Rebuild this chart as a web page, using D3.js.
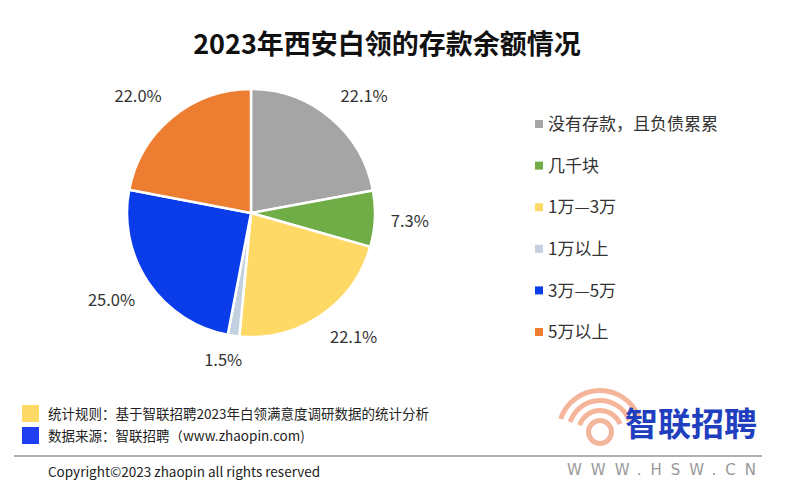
<!DOCTYPE html>
<html>
<head>
<meta charset="utf-8">
<script src="https://cdn.jsdelivr.net/npm/d3@7"></script>
<style>
	body { margin: 0; background: #fff; }
	svg text { font-family: "Noto Sans CJK SC", "Noto Sans", sans-serif; }
</style>
</head>
<body>
<div id="chart"></div>
<script>
var categories = ['没有存款，且负债累累', '几千块', '1万—3万', '1万以上', '3万—5万', '5万以上'];
var values = [22.1, 7.3, 22.1, 1.5, 25.0, 22.0];
var colors = ['#A5A5A5', '#70AD47', '#FFD966', '#C3D0E0', '#0B3CEA', '#ED7D31'];
var noteLines = ['统计规则：基于智联招聘2023年白领满意度调研数据的统计分析', '数据来源：智联招聘（www.zhaopin.com)'];
var noteColors = ['#FFD966', '#1E3EF0'];

var options = {
	width: 800,
	height: 496,
	cx: 251,
	cy: 213,
	radius: 124,
	labelRadius: 140,
	legendX: 535,
	legendY: 124,
	legendStep: 41.6
};

var svg = d3.select('#chart').append('svg')
	.attr('width', options.width)
	.attr('height', options.height);

// Title
svg.append('text')
	.attr('x', 387)
	.attr('y', 54)
	.attr('text-anchor', 'middle')
	.style('font-size', '27px')
	.style('font-weight', 'bold')
	.style('fill', '#111')
	.text('2023年西安白领的存款余额情况');

var pie = d3.pie().sort(null).value(function(d) { return d; });
var arcs = pie(values);
var arc = d3.arc().innerRadius(0).outerRadius(options.radius);

var g = svg.append('g')
	.attr('transform', 'translate(' + options.cx + ',' + options.cy + ')');

g.selectAll('path.slice')
	.data(arcs)
	.enter().append('path')
	.classed('slice', true)
	.attr('d', arc)
	.style('fill', function(d, i) { return colors[i]; })
	.style('stroke', '#fff')
	.style('stroke-width', 2.5);

// Data labels: the nearest corner of the label box sits on the mid-angle ray
var clamp = function(v) { return Math.max(-1, Math.min(1, v)); };
var labels = g.selectAll('text.label')
	.data(arcs)
	.enter().append('text')
	.classed('label', true)
	.attr('dy', '0.35em')
	.attr('text-anchor', 'middle')
	.style('font-size', '16.5px')
	.style('fill', '#333')
	.text(function(d) { return d.data.toFixed(1) + '%'; });
labels.each(function(d) {
	var a = (d.startAngle + d.endAngle) / 2;
	var hw = this.getComputedTextLength() / 2;
	var hh = 9;
	var x = Math.sin(a) * options.labelRadius + hw * clamp(Math.sin(a) * 3);
	var y = -Math.cos(a) * options.labelRadius - hh * clamp(Math.cos(a) * 3);
	d3.select(this).attr('x', x).attr('y', y);
});

// Legend
var legend = svg.selectAll('g.legend')
	.data(categories)
	.enter().append('g')
	.classed('legend', true)
	.attr('transform', function(d, i) {
		return 'translate(' + options.legendX + ',' + (options.legendY + i * options.legendStep) + ')';
	});
legend.append('rect')
	.attr('x', 0)
	.attr('y', -4)
	.attr('width', 8)
	.attr('height', 8)
	.style('fill', function(d, i) { return colors[i]; });
legend.append('text')
	.attr('x', 13)
	.attr('dy', '0.36em')
	.style('font-size', '17px')
	.style('fill', '#333')
	.text(function(d) { return d; });

// Notes at the bottom
var note = svg.selectAll('g.note')
	.data(noteLines)
	.enter().append('g')
	.classed('note', true)
	.attr('transform', function(d, i) { return 'translate(22,' + (405 + i * 22) + ')'; });
note.append('rect')
	.attr('width', 17)
	.attr('height', 17)
	.style('fill', function(d, i) { return noteColors[i]; });
note.append('text')
	.attr('x', 26)
	.attr('y', 14)
	.style('font-size', '13.5px')
	.style('fill', '#222')
	.text(function(d) { return d; });

svg.append('line')
	.attr('x1', 14).attr('x2', 762)
	.attr('y1', 456).attr('y2', 456)
	.style('stroke', '#666')
	.style('stroke-width', 1.2);

svg.append('text')
	.attr('x', 48)
	.attr('y', 477)
	.style('font-size', '13.5px')
	.style('fill', '#222')
	.text('Copyright©2023 zhaopin all rights reserved');

// Logo
var logo = svg.append('g').attr('transform', 'translate(600,432)');
[14, 24, 34, 44].forEach(function(r, i) {
	logo.append('path')
		.attr('d', d3.arc().innerRadius(r - 5).outerRadius(r)
			.startAngle(i === 0 ? 0 : -1.25).endAngle(i === 0 ? 2 * Math.PI : 1.2)())
		.style('fill', '#F2A88A')
		.style('opacity', 0.85);
});
svg.append('text')
	.attr('x', 625)
	.attr('y', 436)
	.style('font-size', '33px')
	.style('font-weight', 'bold')
	.style('fill', '#1F3FBF')
	.text('智联招聘');
svg.append('text')
	.attr('x', 567)
	.attr('y', 475)
	.style('font-size', '15px')
	.style('letter-spacing', '9px')
	.style('fill', '#999')
	.style('font-family', 'DejaVu Sans, sans-serif')
	.text('WWW.HSW.CN');
</script>
</body>
</html>
